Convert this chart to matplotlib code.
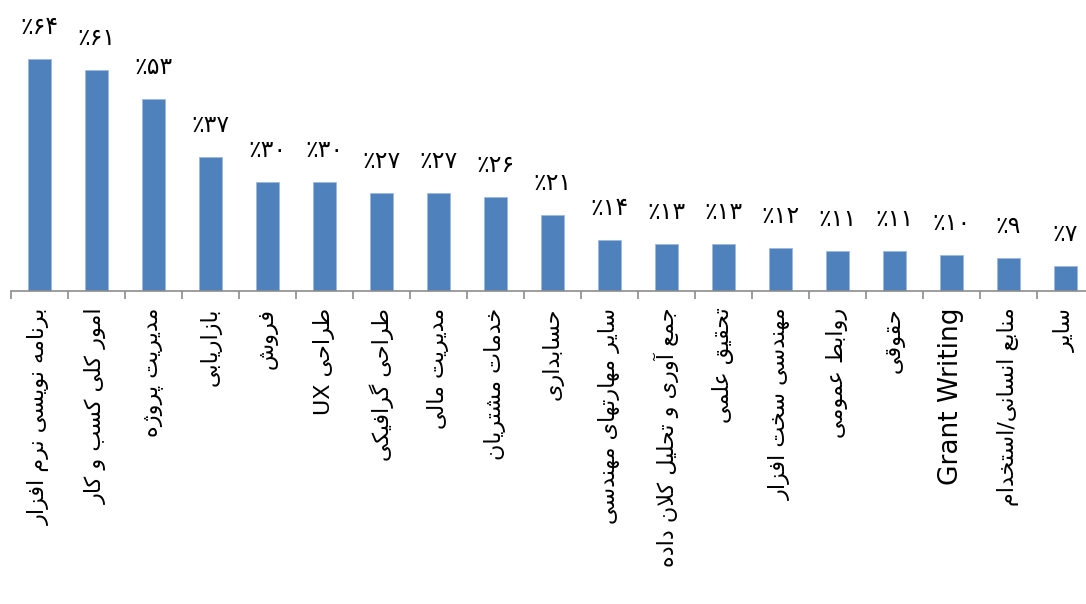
import matplotlib
matplotlib.use("Agg")
import matplotlib.pyplot as plt
import numpy as np

categories = [
    "برنامه نویسی نرم افزار",
    "امور کلی کسب و کار",
    "مدیریت پروژه",
    "بازاریابی",
    "فروش",
    "طراحی UX",
    "طراحی گرافیکی",
    "مدیریت مالی",
    "خدمات مشتریان",
    "حسابداری",
    "سایر مهارتهای مهندسی",
    "جمع آوری و تحلیل کلان داده",
    "تحقیق علمی",
    "مهندسی سخت افزار",
    "روابط عمومی",
    "حقوقی",
    "Grant Writing",
    "منابع انسانی/استخدام",
    "سایر",
]
values = [64, 61, 53, 37, 30, 30, 27, 27, 26, 21, 14, 13, 13, 12, 11, 11, 10, 9, 7]

# ---- minimal Arabic-script shaping (presentation forms) + RTL ordering ----
FORMS = {
    '\u0627': ('\uFE8D', '\uFE8E'), '\u0622': ('\uFE81', '\uFE82'),
    '\u062F': ('\uFEA9', '\uFEAA'), '\u0630': ('\uFEAB', '\uFEAC'),
    '\u0631': ('\uFEAD', '\uFEAE'), '\u0632': ('\uFEAF', '\uFEB0'),
    '\u0698': ('\uFB8A', '\uFB8B'), '\u0648': ('\uFEED', '\uFEEE'),
    '\u0628': ('\uFE8F', '\uFE90', '\uFE91', '\uFE92'),
    '\u067E': ('\uFB56', '\uFB57', '\uFB58', '\uFB59'),
    '\u062A': ('\uFE95', '\uFE96', '\uFE97', '\uFE98'),
    '\u062B': ('\uFE99', '\uFE9A', '\uFE9B', '\uFE9C'),
    '\u062C': ('\uFE9D', '\uFE9E', '\uFE9F', '\uFEA0'),
    '\u0686': ('\uFB7A', '\uFB7B', '\uFB7C', '\uFB7D'),
    '\u062D': ('\uFEA1', '\uFEA2', '\uFEA3', '\uFEA4'),
    '\u062E': ('\uFEA5', '\uFEA6', '\uFEA7', '\uFEA8'),
    '\u0633': ('\uFEB1', '\uFEB2', '\uFEB3', '\uFEB4'),
    '\u0634': ('\uFEB5', '\uFEB6', '\uFEB7', '\uFEB8'),
    '\u0635': ('\uFEB9', '\uFEBA', '\uFEBB', '\uFEBC'),
    '\u0636': ('\uFEBD', '\uFEBE', '\uFEBF', '\uFEC0'),
    '\u0637': ('\uFEC1', '\uFEC2', '\uFEC3', '\uFEC4'),
    '\u0638': ('\uFEC5', '\uFEC6', '\uFEC7', '\uFEC8'),
    '\u0639': ('\uFEC9', '\uFECA', '\uFECB', '\uFECC'),
    '\u063A': ('\uFECD', '\uFECE', '\uFECF', '\uFED0'),
    '\u0641': ('\uFED1', '\uFED2', '\uFED3', '\uFED4'),
    '\u0642': ('\uFED5', '\uFED6', '\uFED7', '\uFED8'),
    '\u06A9': ('\uFB8E', '\uFB8F', '\uFB90', '\uFB91'),
    '\u0643': ('\uFED9', '\uFEDA', '\uFEDB', '\uFEDC'),
    '\u06AF': ('\uFB92', '\uFB93', '\uFB94', '\uFB95'),
    '\u0644': ('\uFEDD', '\uFEDE', '\uFEDF', '\uFEE0'),
    '\u0645': ('\uFEE1', '\uFEE2', '\uFEE3', '\uFEE4'),
    '\u0646': ('\uFEE5', '\uFEE6', '\uFEE7', '\uFEE8'),
    '\u0647': ('\uFEE9', '\uFEEA', '\uFEEB', '\uFEEC'),
    '\u06CC': ('\uFBFC', '\uFBFD', '\uFBFE', '\uFBFF'),
    '\u064A': ('\uFEF1', '\uFEF2', '\uFEF3', '\uFEF4'),
}
LAM_ALEF = {'\u0627': ('\uFEFB', '\uFEFC'), '\u0622': ('\uFEF5', '\uFEF6')}


def shape_word(w):
    w = w.replace('\u200c', '')
    out = []
    i = 0
    n = len(w)
    while i < n:
        c = w[i]
        prev = w[i - 1] if i > 0 else None
        conn_prev = prev in FORMS and len(FORMS[prev]) == 4
        if c == '\u0644' and i + 1 < n and w[i + 1] in LAM_ALEF:
            out.append(LAM_ALEF[w[i + 1]][1 if conn_prev else 0])
            i += 2
            continue
        if c in FORMS:
            f = FORMS[c]
            nxt = w[i + 1] if i + 1 < n else None
            conn_next = len(f) == 4 and nxt in FORMS
            if conn_prev and conn_next:
                out.append(f[3])
            elif conn_prev:
                out.append(f[1])
            elif conn_next:
                out.append(f[2])
            else:
                out.append(f[0])
        else:
            out.append(c)
        i += 1
    return ''.join(out)


def is_arabic(s):
    return any('\u0600' <= ch <= '\u06FF' for ch in s)


def rtl(s):
    if not is_arabic(s):
        return s
    words = s.split(' ')
    vis = []
    for w in reversed(words):
        if is_arabic(w):
            vis.append(shape_word(w)[::-1])
        else:
            vis.append(w)
    return ' '.join(vis)


FA_DIGITS = str.maketrans('0123456789', '۰۱۲۳۴۵۶۷۸۹')


def fa_pct(v):
    return '٪' + str(v).translate(FA_DIGITS)


# ---------------- plot ----------------
plt.rcParams['font.family'] = ['DejaVu Sans']
fig = plt.figure(figsize=(10.86, 6.04), dpi=100)
ax_left = 10.7 / 1086
ax_w = 57.0 * len(categories) / 1086
ax_bottom = 1 - 291 / 604
ax_h = 3.62 * 70 / 604
ax = fig.add_axes([ax_left, ax_bottom, ax_w, ax_h])

x = np.arange(len(categories))
bars = ax.bar(x, values, width=0.41, color='#4F81BD', edgecolor='#9DB8DB', linewidth=0.6, zorder=2)
ax.set_xlim(-0.5, len(categories) - 0.5)
ax.set_ylim(0, 70)

for xi, v in zip(x, values):
    ax.annotate(fa_pct(v), (xi, v), xytext=(0, 23), textcoords='offset points',
                ha='center', va='center', fontsize=17, color='#000000', clip_on=False)

for s in ['top', 'right', 'left']:
    ax.spines[s].set_visible(False)
ax.spines['bottom'].set_color('#8C8C8C')
ax.spines['bottom'].set_linewidth(1.2)
ax.set_yticks([])

ax.set_xticks(np.arange(-0.5, len(categories), 1.0))
ax.set_xticklabels([])
ax.tick_params(axis='x', which='major', direction='out', length=6, width=1.2, color='#8C8C8C')
ax.set_xticks(x, minor=True)
ax.set_xticklabels([rtl(c) for c in categories], minor=True, rotation=90, va='top', ha='center')
ax.tick_params(axis='x', which='minor', length=0, pad=12, labelsize=16)
for lbl, c in zip(ax.get_xticklabels(minor=True), categories):
    if not is_arabic(c):
        lbl.set_fontsize(19)

fig.savefig('out.png', dpi=100)
